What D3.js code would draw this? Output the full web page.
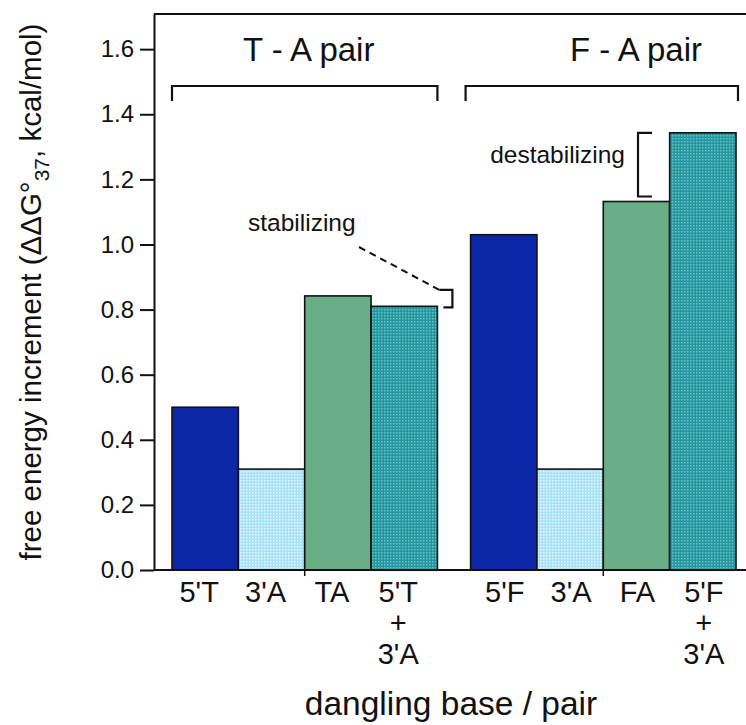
<!DOCTYPE html>
<html>
<head>
<meta charset="utf-8">
<script src="https://cdn.jsdelivr.net/npm/d3@7"></script>
<style>
  body { margin: 0; background: #fff; }
  text { font-family: "Liberation Sans", Arial, Helvetica, sans-serif; fill: #111; }
</style>
</head>
<body>
<div id="chart"></div>
<script>
// data
var labels = [["5'T"], ["3'A"], ["TA"], ["5'T", "+", "3'A"],
              ["5'F"], ["3'A"], ["FA"], ["5'F", "+", "3'A"]];
var values = [0.50, 0.31, 0.842, 0.81, 1.03, 0.31, 1.132, 1.343];
var kinds = ["dangle5", "dangle3", "pair", "sum", "dangle5", "dangle3", "pair", "sum"];
var yTicks = [0, 0.2, 0.4, 0.6, 0.8, 1.0, 1.2, 1.4, 1.6];
var groups = ["T - A pair", "F - A pair"];

var W = 746, H = 725;
var svg = d3.select("#chart").append("svg")
    .attr("width", W).attr("height", H);

// patterns for the dotted fills
var defs = svg.append("defs");
function dots(id, bg, dot) {
  var p = defs.append("pattern").attr("id", id)
      .attr("patternUnits", "userSpaceOnUse")
      .attr("width", 3).attr("height", 3);
  p.append("rect").attr("width", 3).attr("height", 3).attr("fill", bg);
  p.append("rect").attr("width", 1.5).attr("height", 1.5).attr("fill", dot);
}
dots("lightDots", "#a9e2f6", "#e4f7fd");
dots("tealDots", "#23969f", "#6cc4c6");

var fills = {
  dangle5: "#0b27a8",
  dangle3: "url(#lightDots)",
  pair: "#6aae88",
  sum: "url(#tealDots)"
};

var axisX = 154, baseY = 570, topY = 14;

var y = d3.scaleLinear().domain([0, 1.708]).range([baseY, topY]);
// slot index, with half a slot gap between the two groups
function slot(i) { return i < 4 ? i : i + 0.5; }
var x = d3.scaleLinear().domain([0, 8.5]).range([172, 736]);

// bars
svg.selectAll("rect.bar")
  .data(values)
  .enter().append("rect")
    .attr("class", "bar")
    .attr("x", function(d, i) { return x(slot(i)); })
    .attr("y", function(d) { return y(d); })
    .attr("width", x(1) - x(0))
    .attr("height", function(d) { return baseY - y(d); })
    .attr("fill", function(d, i) { return fills[kinds[i]]; })
    .attr("stroke", "#111")
    .attr("stroke-width", 1.6);

// y axis
var yAxis = svg.append("g")
    .attr("transform", "translate(" + axisX + ",0)")
    .call(d3.axisLeft(y).tickValues(yTicks).tickFormat(d3.format(".1f"))
          .tickSize(14).tickSizeOuter(0).tickPadding(6));
yAxis.select(".domain").attr("stroke", "#111").attr("stroke-width", 2);
yAxis.selectAll(".tick line").attr("stroke", "#111").attr("stroke-width", 2);
yAxis.selectAll(".tick text")
    .attr("font-size", 24)
    .style("font-size", "24px")
    .style("font-family", "'Liberation Sans', Arial, sans-serif")
    .attr("fill", "#111");

// frame lines: top and bottom
svg.append("line").attr("x1", axisX).attr("x2", W)
    .attr("y1", topY).attr("y2", topY)
    .attr("stroke", "#111").attr("stroke-width", 2);
svg.append("line").attr("x1", axisX).attr("x2", W)
    .attr("y1", baseY).attr("y2", baseY)
    .attr("stroke", "#111").attr("stroke-width", 2);

// little marks below the baseline
[2, 6.5].forEach(function(s) {
  svg.append("line").attr("x1", x(s)).attr("x2", x(s))
      .attr("y1", baseY).attr("y2", baseY + 6)
      .attr("stroke", "#111").attr("stroke-width", 1.5);
});

// category labels (first group sits a little left of the bar centres)
var bw = x(1) - x(0);
var cat = svg.selectAll("text.cat")
  .data(labels)
  .enter().append("text")
    .attr("class", "cat")
    .attr("text-anchor", "middle")
    .style("font-size", "29px")
    .attr("transform", function(d, i) {
      var shift = i < 4 ? -6 : 1;
      return "translate(" + (x(slot(i)) + bw / 2 + shift) + "," + 602 + ")";
    });
cat.selectAll("tspan")
  .data(function(d) { return d; })
  .enter().append("tspan")
    .attr("x", 0)
    .attr("y", function(d, j) { return j * 31; })
    .text(function(d) { return d; });

// axis titles
svg.append("text")
    .attr("x", 451).attr("y", 715)
    .attr("text-anchor", "middle")
    .style("font-size", "33.5px")
    .text("dangling base / pair");

var yl = svg.append("text")
    .attr("transform", "translate(41,292) rotate(-90)")
    .attr("text-anchor", "middle")
    .style("font-size", "29.5px");
yl.append("tspan").text("free energy increment (\u0394\u0394G\u00b0");
yl.append("tspan").attr("dy", 8).style("font-size", "21px").text("37");
yl.append("tspan").attr("dy", -8).text(", kcal/mol)");

// group brackets
function bracket(x1, x2, yy, leg) {
  svg.append("path")
      .attr("d", "M" + x1 + "," + (yy + leg) + "V" + yy + "H" + x2 + "V" + (yy + leg))
      .attr("fill", "none").attr("stroke", "#111").attr("stroke-width", 2.2);
}
bracket(x(0), x(4), 86, 15);
bracket(x(4.5) - 5, x(8.5) + 2, 86, 15);

svg.append("text").attr("x", x(2) + 4).attr("y", 61)
    .attr("text-anchor", "middle").style("font-size", "33px").text(groups[0]);
svg.append("text").attr("x", 636).attr("y", 61)
    .attr("text-anchor", "middle").style("font-size", "33px").text(groups[1]);

// destabilizing bracket between FA and 5'F+3'A
var dx = 638;
svg.append("path")
    .attr("d", "M" + (dx + 14) + "," + y(values[7]) + "H" + dx +
               "V" + (y(values[6]) - 5) + "H" + (dx + 14))
    .attr("fill", "none").attr("stroke", "#111").attr("stroke-width", 2.2);
svg.append("text").attr("x", 625).attr("y", 163)
    .attr("text-anchor", "end").style("font-size", "24.5px").text("destabilizing");

// stabilizing bracket between TA and 5'T+3'A
var sx = x(4) + 2;
svg.append("path")
    .attr("d", "M" + sx + "," + (y(values[2]) - 6) + "H" + (sx + 13) +
               "V" + (y(values[3]) + 1) + "H" + (sx + 4))
    .attr("fill", "none").attr("stroke", "#111").attr("stroke-width", 2.2);
svg.append("line")
    .attr("x1", 359).attr("y1", 247)
    .attr("x2", sx).attr("y2", y(values[2]) - 6)
    .attr("stroke", "#111").attr("stroke-width", 2).attr("stroke-dasharray", "7,5");
svg.append("text").attr("x", 248).attr("y", 231)
    .style("font-size", "24.5px").text("stabilizing");
</script>
</body>
</html>
